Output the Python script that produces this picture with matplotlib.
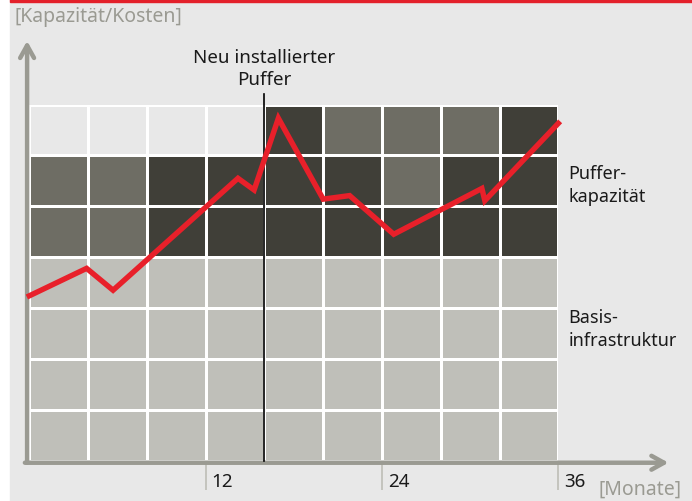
import numpy as np
import matplotlib.pyplot as plt
from matplotlib.colors import ListedColormap
from matplotlib.patches import Rectangle

plt.rcParams['font.family'] = ['Noto Sans', 'DejaVu Sans']

# red cost/capacity curve (months, capacity in grid units)
months = [0, 3.9, 5.7, 14.2, 15.3, 16.95, 20.0, 21.8, 24.8, 30.8, 31.0, 36.0]
level = [3.24, 3.78, 3.35, 5.55, 5.32, 6.73, 5.14, 5.21, 4.45, 5.35, 5.11, 6.63]

# cell shading, bottom row first: 0 empty, 1 base, 2 buffer (light), 3 buffer (dark)
cells = [
    [1, 1, 1, 1, 1, 1, 1, 1, 1],
    [1, 1, 1, 1, 1, 1, 1, 1, 1],
    [1, 1, 1, 1, 1, 1, 1, 1, 1],
    [1, 1, 1, 1, 1, 1, 1, 1, 1],
    [2, 2, 3, 3, 3, 3, 3, 3, 3],
    [2, 2, 3, 3, 3, 3, 2, 3, 3],
    [0, 0, 0, 0, 3, 2, 2, 2, 3],
]
col_width = 4
xticks = [12, 24, 36]
install_month = 16

bg = '#e8e8e8'
gray = '#9a9a92'
ink = '#1a1a1a'
cmap = ListedColormap([bg, '#bfbfb9', '#6e6d64', '#403f38'])

fig = plt.figure(figsize=(6.92, 5.02), dpi=100)
fig.patches.append(Rectangle((10 / 692, 0), 1, 1, transform=fig.transFigure, color=bg, zorder=-10))
fig.patches.append(Rectangle((10 / 692, 1 - 2.5 / 502), 1, 2.5 / 502, transform=fig.transFigure,
                             color='#e3202a', zorder=-9))

ax = fig.add_axes([29.3 / 692, (502 - 461.7) / 502, (558.3 - 29.3) / 692, (461.7 - 105.5) / 502])
ax.patch.set_visible(False)
for s in ax.spines.values():
    s.set_visible(False)

nrows = len(cells)
ncols = len(cells[0])
xe = np.arange(ncols + 1) * col_width
ye = np.arange(nrows + 1)
ax.pcolormesh(xe, ye, np.array(cells), cmap=cmap, vmin=0, vmax=3,
              edgecolors='white', linewidth=1.8)
ax.set_xlim(0, ncols * col_width)
ax.set_ylim(0, nrows)

ax.plot(months, level, color='#e8202a', lw=3.9, solid_joinstyle='miter', zorder=5, clip_on=False)

ax.plot([install_month, install_month], [0, 7.2], color='black', lw=1.2, zorder=4, clip_on=False)
ax.text(install_month, 7.72, 'Neu installierter\nPuffer', ha='center', va='center',
        fontsize=13.5, color=ink, linespacing=1.3)

# axes with arrows
arrow = dict(arrowstyle='->,head_length=0.9,head_width=0.5', color=gray, lw=3.2,
             shrinkA=0, shrinkB=0)
ax.annotate('', xy=(-0.15, 8.25), xytext=(-0.15, -0.04), arrowprops=arrow, annotation_clip=False)
ax.annotate('', xy=(43.5, -0.04), xytext=(-0.3, -0.04), arrowprops=arrow, annotation_clip=False)

ax.set_xticks(xticks)
ax.set_yticks([])
ax.tick_params(axis='x', length=21, width=1.2, color='#bdbdb6', labelbottom=False, direction='out')
for t in xticks:
    ax.text(t + 0.4, -0.4, str(t), ha='left', va='center', fontsize=13.5, color=ink)

ax.text(36.67, 5.43, 'Puffer-\nkapazität', ha='left', va='center', fontsize=13,
        color=ink, linespacing=1.35)
ax.text(36.67, 2.59, 'Basis-\ninfrastruktur', ha='left', va='center', fontsize=13,
        color=ink, linespacing=1.35)

fig.text(14 / 692, 1 - 17 / 502, '[Kapazität/Kosten]', ha='left', va='center', fontsize=14, color=gray)
fig.text(598 / 692, 1 - 490 / 502, '[Monate]', ha='left', va='center', fontsize=14, color=gray)

fig.savefig('out.png', dpi=100)
